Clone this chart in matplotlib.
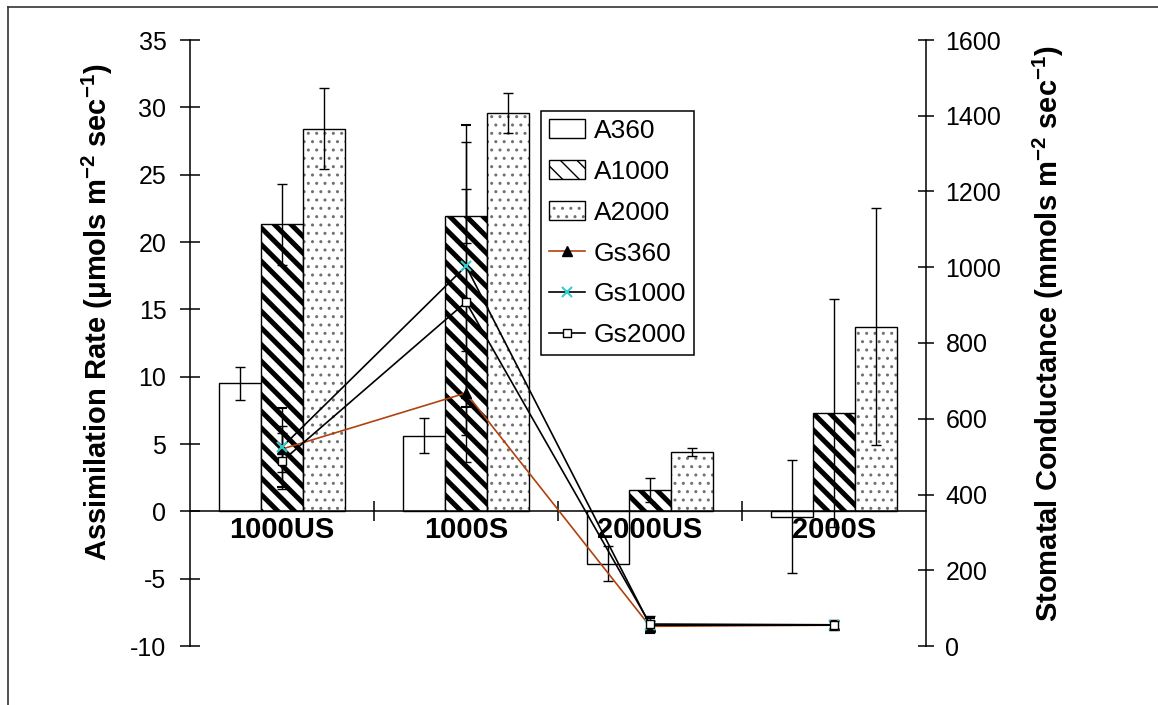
import matplotlib
matplotlib.use('Agg')
import numpy as np
import matplotlib.pyplot as plt
import matplotlib.patches as mpatches
from matplotlib.lines import Line2D
from matplotlib.legend_handler import HandlerTuple

plt.rcParams['font.family'] = ['Liberation Sans', 'DejaVu Sans']
plt.rcParams['mathtext.fontset'] = 'custom'
plt.rcParams['mathtext.rm'] = 'Liberation Sans'
plt.rcParams['mathtext.bf'] = 'Liberation Sans:bold'
plt.rcParams['mathtext.default'] = 'regular'
plt.rcParams['axes.unicode_minus'] = False

# data
categories = ['1000US', '1000S', '2000US', '2000S']
a360 = [9.5, 5.6, -3.9, -0.4]
a360_err = [1.2, 1.3, 1.3, 4.2]
a1000 = [21.3, 21.9, 1.6, 7.3]
a1000_err = [3.0, 2.0, 0.9, 8.5]
a2000 = [28.4, 29.6, 4.4, 13.7]
a2000_err = [3.0, 1.5, 0.3, 8.8]

gs360 = [520, 668, 52, 55]
gs360_err = [60, 112, 15, 10]
gs1000 = [525, 1003, 55, 55]
gs1000_err = [104, 372, 20, 12]
gs2000 = [488, 908, 58, 56]
gs2000_err = [74, 422, 20, 12]

x = np.arange(len(categories))
w = 0.228
TICK_FS = 18
LAB_FS = 21

fig = plt.figure(figsize=(11.58, 7.05), dpi=100)
ax = fig.add_axes([190 / 1158, 59 / 705, 736 / 1158, 606 / 705])
ax2 = ax.twinx()
ax.set_axisbelow(False)

err_kw = dict(ecolor='black', elinewidth=1.0, capsize=3.5, capthick=1.0)

# A360 plain white
b1 = ax.bar(x - w, a360, w, color='white', edgecolor='black', linewidth=1.0,
            yerr=a360_err, error_kw=err_kw, zorder=2)

# A1000 thick diagonal stripes
plt.rcParams['hatch.linewidth'] = 3.6
b2 = ax.bar(x, a1000, w, color='white', edgecolor='black', linewidth=1.0,
            hatch='\\\\', yerr=a1000_err, error_kw=err_kw, zorder=2)
for p in b2:
    if hasattr(p, 'set_hatch_linewidth'):
        p.set_hatch_linewidth(3.6)

# A2000 fine grey dots + black outline
plt.rcParams['hatch.linewidth'] = 1.0
b3 = ax.bar(x + w, a2000, w, color='white', edgecolor='#707070', linewidth=0,
            hatch='..', zorder=2)
for p in b3:
    if hasattr(p, 'set_hatch_linewidth'):
        p.set_hatch_linewidth(1.0)
b3o = ax.bar(x + w, a2000, w, fill=False, edgecolor='black', linewidth=1.0,
             yerr=a2000_err, error_kw=err_kw, zorder=2)

# stomatal conductance lines on the right axis
ax2.errorbar(x, gs360, yerr=gs360_err, color='#B0420F', lw=1.2, marker='^',
             ms=7, mfc='black', mec='black', ecolor='black', elinewidth=1.0,
             capsize=3.5, zorder=3)
ax2.errorbar(x, gs1000, yerr=gs1000_err, color='black', lw=1.2, marker='x',
             ms=7, mec='#33CCCC', mew=1.5, ecolor='black', elinewidth=1.0,
             capsize=3.5, zorder=3)
ax2.errorbar(x, gs2000, yerr=gs2000_err, color='black', lw=1.2, marker='s',
             ms=6, mfc='white', mec='black', ecolor='black', elinewidth=1.0,
             capsize=3.5, zorder=3)

# axes styling
ax.set_xlim(-0.5, 3.5)
ax.set_ylim(-10, 35)
ax.set_yticks(np.arange(-10, 36, 5))
ax2.set_ylim(0, 1600)
ax2.set_yticks(np.arange(0, 1601, 200))

ax.spines['top'].set_visible(False)
ax.spines['right'].set_visible(False)
ax.spines['bottom'].set_position(('data', 0))
for s in ['top', 'left', 'bottom']:
    ax2.spines[s].set_visible(False)
for s in ax.spines.values():
    s.set_linewidth(1.1)
ax2.spines['right'].set_linewidth(1.1)

ax.set_xticks([0.5, 1.5, 2.5])
ax.set_xticklabels([])
ax.tick_params(axis='x', which='major', direction='inout', length=14, width=1.1)
ax.set_xticks(x, minor=True)
ax.set_xticklabels(categories, minor=True, fontsize=LAB_FS, fontweight='bold')
ax.tick_params(axis='x', which='minor', length=0, pad=3)

ax.tick_params(axis='y', direction='inout', length=14, width=1.1,
               labelsize=TICK_FS, pad=10)
ax2.tick_params(axis='y', direction='inout', length=12, width=1.1,
                labelsize=TICK_FS, pad=8)

ax.set_ylabel('Assimilation Rate (μmols m$^{-2}$ sec$^{-1}$)',
              fontsize=LAB_FS, fontweight='bold')
ax.yaxis.set_label_coords(-0.102, 0.55)
ax2.set_ylabel('Stomatal Conductance (mmols m$^{-2}$ sec$^{-1}$)',
               fontsize=LAB_FS, fontweight='bold')
ax2.yaxis.set_label_coords(1.143, 0.515)

# legend
dots_h = mpatches.Patch(facecolor='white', edgecolor='#707070', hatch='..', linewidth=0)
outline_h = mpatches.Patch(fill=False, edgecolor='black', linewidth=1.0)
h360 = mpatches.Patch(facecolor='white', edgecolor='black', linewidth=1.0)
h1000 = mpatches.Patch(facecolor='white', edgecolor='black', hatch='\\\\', linewidth=1.0)
g360 = Line2D([], [], color='#B0420F', lw=1.2, marker='^', ms=7, mfc='black', mec='black')
g1000 = Line2D([], [], color='black', lw=1.2, marker='x', ms=7, mec='#33CCCC', mew=1.5)
g2000 = Line2D([], [], color='black', lw=1.2, marker='s', ms=6, mfc='white', mec='black')
leg = ax2.legend([h360, h1000, (dots_h, outline_h), g360, g1000, g2000],
                 ['A360', 'A1000', 'A2000', 'Gs360', 'Gs1000', 'Gs2000'],
                 handler_map={tuple: HandlerTuple(ndivide=1)},
                 loc='upper left', bbox_to_anchor=(541 / 1158, 1 - 111 / 705),
                 bbox_transform=fig.transFigure, borderaxespad=0,
                 fancybox=False, framealpha=1, edgecolor='black',
                 fontsize=19, handlelength=1.35, handleheight=0.75,
                 labelspacing=0.64, handletextpad=0.35, borderpad=0.3)
leg.get_frame().set_linewidth(1.1)
leg.set_zorder(10)

# outer chart frame
fig.add_artist(Line2D([8 / 1158, 8 / 1158], [0, 1 - 7 / 705], transform=fig.transFigure,
                      color='#333333', lw=1.2))
fig.add_artist(Line2D([8 / 1158, 1], [1 - 7 / 705, 1 - 7 / 705], transform=fig.transFigure,
                      color='#333333', lw=1.2))

fig.savefig('out.png', dpi=100)
